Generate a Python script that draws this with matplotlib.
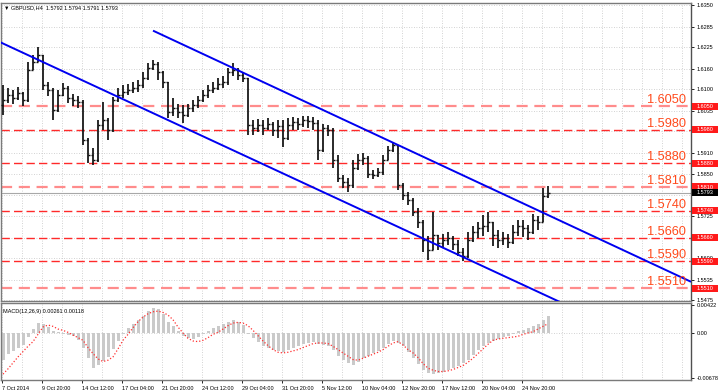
import numpy as np
import matplotlib
matplotlib.use("Agg")
import matplotlib.pyplot as plt
from matplotlib.patches import Rectangle
from matplotlib import transforms

plt.rcParams["font.family"] = ["Liberation Sans", "DejaVu Sans"]

# ============================================================
# DATOS (GBPUSD H4; una barra ~ 8 h)
# ============================================================

opens = [
    1.6053, 1.6068, 1.6083, 1.6074, 1.6089, 1.6068, 1.6157, 1.6181, 1.6202, 1.6113,
    1.6098, 1.6039, 1.6083, 1.6104, 1.6074, 1.6068, 1.6062, 1.5950, 1.5905, 1.5890,
    1.5994, 1.6009, 1.5979, 1.6068, 1.6083, 1.6092, 1.6098, 1.6104, 1.6113, 1.6134,
    1.6163, 1.6175, 1.6151, 1.6122, 1.6033, 1.6045, 1.6033, 1.6024, 1.6045, 1.6053,
    1.6068, 1.6083, 1.6098, 1.6104, 1.6116, 1.6122, 1.6151, 1.6157, 1.6143, 1.6134,
    1.5994, 1.5985, 1.5994, 1.5985, 1.5997, 1.5979, 1.5991, 1.5956, 1.5994, 1.6003,
    1.5997, 1.6009, 1.6006, 1.6000, 1.5920, 1.5985, 1.5979, 1.5890, 1.5837, 1.5825,
    1.5816, 1.5867, 1.5890, 1.5896, 1.5849, 1.5846, 1.5855, 1.5890, 1.5920, 1.5935,
    1.5816, 1.5787, 1.5772, 1.5736, 1.5707, 1.5653, 1.5624, 1.5668, 1.5644, 1.5653,
    1.5659, 1.5641, 1.5618, 1.5606, 1.5653, 1.5677, 1.5689, 1.5695, 1.5707, 1.5668,
    1.5653, 1.5659, 1.5647, 1.5677, 1.5695, 1.5689, 1.5677, 1.5712, 1.5707, 1.5784,
]
highs = [
    1.6113, 1.6104, 1.6098, 1.6107, 1.6092, 1.6181, 1.6202, 1.6226, 1.6202, 1.6122,
    1.6104, 1.6098, 1.6119, 1.6110, 1.6086, 1.6080, 1.6068, 1.5956, 1.5926, 1.6009,
    1.6062, 1.6015, 1.6077, 1.6104, 1.6113, 1.6116, 1.6122, 1.6128, 1.6151, 1.6178,
    1.6187, 1.6181, 1.6155, 1.6122, 1.6074, 1.6056, 1.6053, 1.6056, 1.6068, 1.6080,
    1.6098, 1.6113, 1.6122, 1.6134, 1.6140, 1.6163, 1.6178, 1.6163, 1.6151, 1.6134,
    1.6009, 1.6012, 1.6009, 1.6015, 1.6003, 1.6009, 1.6009, 1.6015, 1.6018, 1.6015,
    1.6021, 1.6021, 1.6018, 1.6009, 1.5997, 1.5994, 1.5985, 1.5905, 1.5846, 1.5837,
    1.5890, 1.5908, 1.5911, 1.5902, 1.5861, 1.5867, 1.5905, 1.5932, 1.5944, 1.5935,
    1.5822, 1.5796, 1.5778, 1.5748, 1.5712, 1.5665, 1.5736, 1.5668, 1.5671, 1.5677,
    1.5665, 1.5653, 1.5629, 1.5677, 1.5695, 1.5707, 1.5727, 1.5736, 1.5707, 1.5683,
    1.5677, 1.5671, 1.5698, 1.5712, 1.5712, 1.5698, 1.5730, 1.5724, 1.5807, 1.5813,
]
lows = [
    1.6024, 1.6059, 1.6056, 1.6068, 1.6050, 1.6062, 1.6157, 1.6181, 1.6098, 1.6080,
    1.6009, 1.6033, 1.6080, 1.6059, 1.6050, 1.6045, 1.5935, 1.5882, 1.5876, 1.5885,
    1.5979, 1.5950, 1.5973, 1.6062, 1.6074, 1.6083, 1.6089, 1.6092, 1.6104, 1.6128,
    1.6157, 1.6128, 1.6104, 1.6015, 1.6021, 1.6015, 1.6000, 1.6018, 1.6033, 1.6045,
    1.6062, 1.6074, 1.6089, 1.6098, 1.6104, 1.6113, 1.6140, 1.6128, 1.6122, 1.5965,
    1.5965, 1.5973, 1.5965, 1.5979, 1.5962, 1.5956, 1.5929, 1.5950, 1.5979, 1.5979,
    1.5988, 1.5985, 1.5979, 1.5890, 1.5914, 1.5962, 1.5867, 1.5825, 1.5807, 1.5796,
    1.5807, 1.5861, 1.5876, 1.5837, 1.5834, 1.5840, 1.5846, 1.5890, 1.5914, 1.5801,
    1.5772, 1.5757, 1.5724, 1.5689, 1.5618, 1.5594, 1.5624, 1.5624, 1.5632, 1.5638,
    1.5624, 1.5606, 1.5591, 1.5600, 1.5647, 1.5659, 1.5665, 1.5677, 1.5635, 1.5629,
    1.5638, 1.5629, 1.5640, 1.5665, 1.5662, 1.5653, 1.5672, 1.5683, 1.5707, 1.5778,
]
closes = [
    1.6068, 1.6083, 1.6074, 1.6089, 1.6068, 1.6157, 1.6181, 1.6202, 1.6113, 1.6098,
    1.6039, 1.6083, 1.6104, 1.6074, 1.6068, 1.6062, 1.5950, 1.5905, 1.5890, 1.5994,
    1.6009, 1.5979, 1.6068, 1.6083, 1.6092, 1.6098, 1.6104, 1.6113, 1.6134, 1.6163,
    1.6175, 1.6151, 1.6122, 1.6033, 1.6045, 1.6033, 1.6024, 1.6045, 1.6053, 1.6068,
    1.6083, 1.6098, 1.6104, 1.6116, 1.6122, 1.6151, 1.6157, 1.6143, 1.6134, 1.5994,
    1.5985, 1.5994, 1.5985, 1.5997, 1.5979, 1.5991, 1.5956, 1.5994, 1.6003, 1.5997,
    1.6009, 1.6006, 1.6000, 1.5920, 1.5985, 1.5979, 1.5890, 1.5837, 1.5825, 1.5816,
    1.5867, 1.5890, 1.5896, 1.5849, 1.5846, 1.5855, 1.5890, 1.5920, 1.5935, 1.5816,
    1.5787, 1.5772, 1.5736, 1.5707, 1.5653, 1.5624, 1.5668, 1.5644, 1.5653, 1.5659,
    1.5641, 1.5618, 1.5606, 1.5653, 1.5677, 1.5689, 1.5695, 1.5707, 1.5668, 1.5653,
    1.5659, 1.5647, 1.5677, 1.5695, 1.5689, 1.5677, 1.5712, 1.5707, 1.5784, 1.5793,
]

macd_main = [
    -0.0040, -0.0032, -0.0027, -0.0023, -0.0018, -0.0006, 0.0006, 0.0015, 0.0013, 0.0009,
    0.0003, 0.0001, -0.0001, -0.0003, -0.0005, -0.0010, -0.0022, -0.0038, -0.0052, -0.0048,
    -0.0042, -0.0036, -0.0024, -0.0012, -0.0002, 0.0008, 0.0014, 0.0020, 0.0026, 0.0033,
    0.0037, 0.0036, 0.0028, 0.0016, 0.0010, 0.0003, -0.0004, -0.0008, -0.0009, -0.0006,
    -0.0002, 0.0003, 0.0007, 0.0011, 0.0014, 0.0017, 0.0019, 0.0016, 0.0012, -0.0002,
    -0.0008, -0.0014, -0.0019, -0.0022, -0.0025, -0.0027, -0.0028, -0.0025, -0.0022, -0.0019,
    -0.0017, -0.0015, -0.0014, -0.0017, -0.0018, -0.0019, -0.0026, -0.0034, -0.0040, -0.0045,
    -0.0048, -0.0044, -0.0038, -0.0034, -0.0030, -0.0027, -0.0022, -0.0017, -0.0012, -0.0015,
    -0.0020, -0.0028, -0.0038, -0.0047, -0.0055, -0.0061, -0.0062, -0.0060, -0.0058, -0.0055,
    -0.0052, -0.0049, -0.0045, -0.0040, -0.0033, -0.0026, -0.0020, -0.0015, -0.0012, -0.0009,
    -0.0006, -0.0004, -0.0001, 0.0003, 0.0005, 0.0007, 0.0010, 0.0014, 0.0020, 0.0026,
]
macd_signal = [
    -0.0062, -0.0054, -0.0045, -0.0036, -0.0028, -0.0020, -0.0013, -0.0002, 0.0009, 0.0012,
    0.0010, 0.0006, 0.0004, 0.0001, -0.0003, -0.0007, -0.0011, -0.0022, -0.0031, -0.0039,
    -0.0043, -0.0041, -0.0036, -0.0024, -0.0011, -0.0002, 0.0008, 0.0017, 0.0024, 0.0029,
    0.0032, 0.0033, 0.0031, 0.0027, 0.0020, 0.0009, 0.0000, -0.0008, -0.0012, -0.0013,
    -0.0011, -0.0007, -0.0002, 0.0001, 0.0006, 0.0011, 0.0015, 0.0016, 0.0015, 0.0011,
    0.0004, -0.0004, -0.0012, -0.0019, -0.0025, -0.0029, -0.0030, -0.0029, -0.0027, -0.0025,
    -0.0022, -0.0019, -0.0016, -0.0015, -0.0015, -0.0016, -0.0020, -0.0025, -0.0030, -0.0035,
    -0.0040, -0.0041, -0.0038, -0.0035, -0.0032, -0.0029, -0.0025, -0.0020, -0.0015, -0.0013,
    -0.0018, -0.0025, -0.0030, -0.0037, -0.0046, -0.0053, -0.0056, -0.0058, -0.0058, -0.0057,
    -0.0055, -0.0052, -0.0049, -0.0044, -0.0038, -0.0031, -0.0024, -0.0017, -0.0011, -0.0009,
    -0.0008, -0.0007, -0.0006, -0.0005, -0.0002, 0.0000, 0.0002, 0.0006, 0.0010, 0.0014,
]

# niveles horizontales y líneas de canal
levels = [1.6050, 1.5980, 1.5880, 1.5810, 1.5740, 1.5660, 1.5590, 1.5510]
light_levels = [1.6050, 1.5810, 1.5510]
current_price = 1.5793

channel_lower_x = [-0.6, 111.4]
channel_lower_y = [1.6240, 1.5469]
channel_upper_x = [30.0, 137.6]
channel_upper_y = [1.6274, 1.5529]

# rejilla de precios; las etiquetas tapadas por las marcas rojas no se rotulan
price_grid = [1.6350, 1.6285, 1.6225, 1.6160, 1.6100, 1.6035, 1.5975, 1.5910,
              1.5850, 1.5785, 1.5725, 1.5660, 1.5600, 1.5535, 1.5475]
price_ticks = [1.6350, 1.6285, 1.6225, 1.6160, 1.6100, 1.6035, 1.5910,
               1.5850, 1.5725, 1.5600, 1.5535, 1.5475]
macd_ticks = [0.00422, 0.0, -0.00678]
macd_tick_labels = ["0.00422", "0.00", "-0.00678"]

date_labels = ["7 Oct 2014", "9 Oct 20:00", "14 Oct 12:00", "17 Oct 04:00",
               "21 Oct 20:00", "24 Oct 12:00", "29 Oct 04:00", "31 Oct 20:00",
               "5 Nov 12:00", "10 Nov 04:00", "12 Nov 20:00", "17 Nov 12:00",
               "20 Nov 04:00", "24 Nov 20:00"]

title_text = "\u25BC GBPUSD,H4  1.5792 1.5794 1.5791 1.5793"
macd_text = "MACD(12,26,9) 0.00261 0.00118"

# ============================================================
# FIGURA
# ============================================================

W, H = 720, 391
fig = plt.figure(figsize=(W / 100, H / 100), dpi=100)
fig.patch.set_facecolor("white")

ax = fig.add_axes([1 / W, 1 - 301 / H, 690 / W, 298 / H])
axm = fig.add_axes([1 / W, 1 - 380 / H, 690 / W, 77 / H])

idx = np.arange(len(closes))
xlim = (-0.4, 137.6)
SMALL = 4.0
GRID = dict(color="#c4c4c4", lw=0.6, linestyle=(0, (1, 2)))

for a in (ax, axm):
    a.set_xlim(*xlim)
    a.set_facecolor("white")
    for s in a.spines.values():
        s.set_color("#7a7a7a")
        s.set_linewidth(1.0)
    a.spines["right"].set_color("#505050")
    a.yaxis.tick_right()
    a.tick_params(axis="y", which="both", length=2.5, width=0.6, pad=1.5,
                  labelsize=SMALL, colors="black")
    for gx in np.arange(0, 140, 4):
        a.axvline(gx - 0.2, zorder=0, **GRID)

# ---------- panel de precios ----------
ax.set_ylim(1.5472, 1.6356)
ax.set_yticks(price_ticks)
ax.set_yticklabels([f"{t:.4f}" for t in price_ticks])
ax.set_xticks([])
for t in price_grid:
    ax.axhline(t, zorder=0, **GRID)

for lv in levels:
    if lv in light_levels:
        ax.axhline(lv, color="#ff8c8c", lw=1.6, linestyle=(0, (5, 3)), zorder=1)
    else:
        ax.axhline(lv, color="#ff2a2a", lw=1.0, linestyle=(0, (6, 3)), zorder=1)
    ax.annotate(f"{lv:.4f}", xy=(1, lv), xycoords=("axes fraction", "data"),
                xytext=(-3.5, 2.2), textcoords="offset points", ha="right",
                va="baseline", fontsize=9.2, color="#ff4a1c", zorder=6)

ax.axhline(current_price, color="#a8a8a8", lw=0.8, zorder=1)

# barras OHLC
bar_col = "#101010"
ax.vlines(idx, lows, highs, color=bar_col, lw=1.25, zorder=3)
ax.hlines(opens, idx - 0.38, idx, color=bar_col, lw=1.0, zorder=3)
ax.hlines(closes, idx, idx + 0.38, color=bar_col, lw=1.0, zorder=3)

# canal
ax.plot(channel_lower_x, channel_lower_y, color="#0000f0", lw=1.4, zorder=4,
        solid_capstyle="butt")
ax.plot(channel_upper_x, channel_upper_y, color="#0000f0", lw=1.4, zorder=4,
        solid_capstyle="butt")

# etiquetas de precio en el eje derecho
tag_tr = transforms.blended_transform_factory(fig.transFigure, ax.transData)
half = 3.6 * (1.6356 - 1.5472) / 298
for lv in levels + [current_price]:
    face = "black" if lv == current_price else "#ff1a1a"
    ax.add_patch(Rectangle((692 / W, lv - half), 26 / W, 2 * half,
                           transform=tag_tr, facecolor=face, edgecolor="none",
                           clip_on=False, zorder=8))
    ax.text(705 / W, lv, f"{lv:.4f}", transform=tag_tr, ha="center",
            va="center", fontsize=SMALL, color="white", clip_on=False, zorder=9)

# ---------- panel MACD ----------
axm.set_ylim(-0.00708, 0.00452)
axm.set_yticks(macd_ticks)
axm.set_yticklabels(macd_tick_labels)
axm.axhline(0, zorder=0, **GRID)
axm.bar(idx, macd_main, width=0.6, color="#cacaca", linewidth=0, zorder=2)
axm.plot(idx, macd_signal, color="#ff3030", lw=0.9, linestyle=(0, (1, 1.6)),
         zorder=3)

date_pos = np.arange(len(date_labels)) * 8 - 0.2
axm.set_xticks(date_pos)
axm.set_xticklabels(date_labels, ha="left")
axm.tick_params(axis="x", length=2.5, width=0.6, pad=1.5, labelsize=SMALL,
                colors="black")

# textos de cabecera
fig.text(4 / W, 1 - 8 / H, title_text, fontsize=SMALL, va="center", ha="left")
fig.text(3 / W, 1 - 311 / H, macd_text, fontsize=SMALL, va="center", ha="left")

fig.savefig("out.png", dpi=100)
